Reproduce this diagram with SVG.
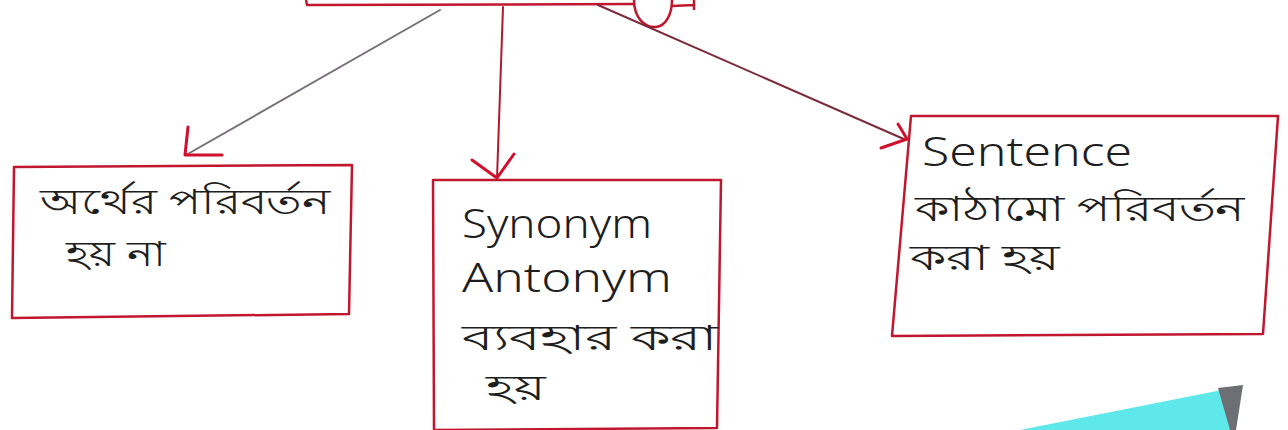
<svg xmlns="http://www.w3.org/2000/svg" width="1288" height="430" viewBox="0 0 1288 430">
<style>
.box{fill:none;stroke:#c0172e;stroke-width:2.5;stroke-linejoin:round}
.t{font-family:"Noto Sans","DejaVu Sans",sans-serif;font-size:40px;font-weight:300;fill:#1e1e1e}
.bn{font-size:35px}
.line{fill:none;stroke:#5a3a44;stroke-width:2;stroke-linecap:round}
.head{fill:none;stroke:#d0102c;stroke-width:3;stroke-linecap:round;stroke-linejoin:round}
</style>
<rect width="1288" height="430" fill="#ffffff"/>
<g id="top-node">
<path class="box" d="M306 0 L307 5 L634 4"/>
<path class="box" d="M634 0 C634 18 645 28 656 27 C666 26 672 14 672 0"/>
<path class="box" d="M672 6 L694 5 M694 0 L694 10"/>
</g>
<g id="connectors">
<path class="line" d="M440 10 L186 155" style="stroke:#77707a"/>
<path class="head" d="M188 127 L185 155 L222 155"/>
<path class="line" d="M503 7 L497 178" style="stroke:#b0182e"/>
<path class="head" d="M472 160 L497 178 L514 154"/>
<path class="line" d="M598 5 L906 140" style="stroke:#7a2a3a"/>
<path class="head" d="M898 124 L907 139 L881 148"/>
</g>
<g id="node-1">
<path class="box" d="M14 167 L352 165 L349 314 L12 318 Z"/>
<text class="t bn" x="40" y="214" textLength="290" lengthAdjust="spacingAndGlyphs">অর্থের পরিবর্তন</text>
<text class="t bn" x="66" y="266" textLength="100" lengthAdjust="spacingAndGlyphs">হয় না</text>
</g>
<g id="node-2">
<path class="box" d="M433 180 L721 180 L717 428 L434 430 Z"/>
<text class="t" x="462" y="238" textLength="190" lengthAdjust="spacingAndGlyphs">Synonym</text>
<text class="t" x="462" y="292" textLength="210" lengthAdjust="spacingAndGlyphs">Antonym</text>
<text class="t bn" x="462" y="350" textLength="255" lengthAdjust="spacingAndGlyphs">ব্যবহার করা</text>
<text class="t bn" x="486" y="400" textLength="60" lengthAdjust="spacingAndGlyphs">হয়</text>
</g>
<g id="node-3">
<path class="box" d="M911 116 L1278 116 L1263 334 L892 336 Z"/>
<text class="t" x="922" y="166" textLength="210" lengthAdjust="spacingAndGlyphs">Sentence</text>
<text class="t bn" x="915" y="221" textLength="330" lengthAdjust="spacingAndGlyphs">কাঠামো পরিবর্তন</text>
<text class="t bn" x="910" y="270" textLength="150" lengthAdjust="spacingAndGlyphs">করা হয়</text>
</g>
<g id="corner-paper">
<polygon points="1020,430 1222,390 1232,430" fill="#5ee8ea"/>
<polygon points="1218,388 1243,385 1236,430 1230,430" fill="#6d6f75"/>
</g>
</svg>
